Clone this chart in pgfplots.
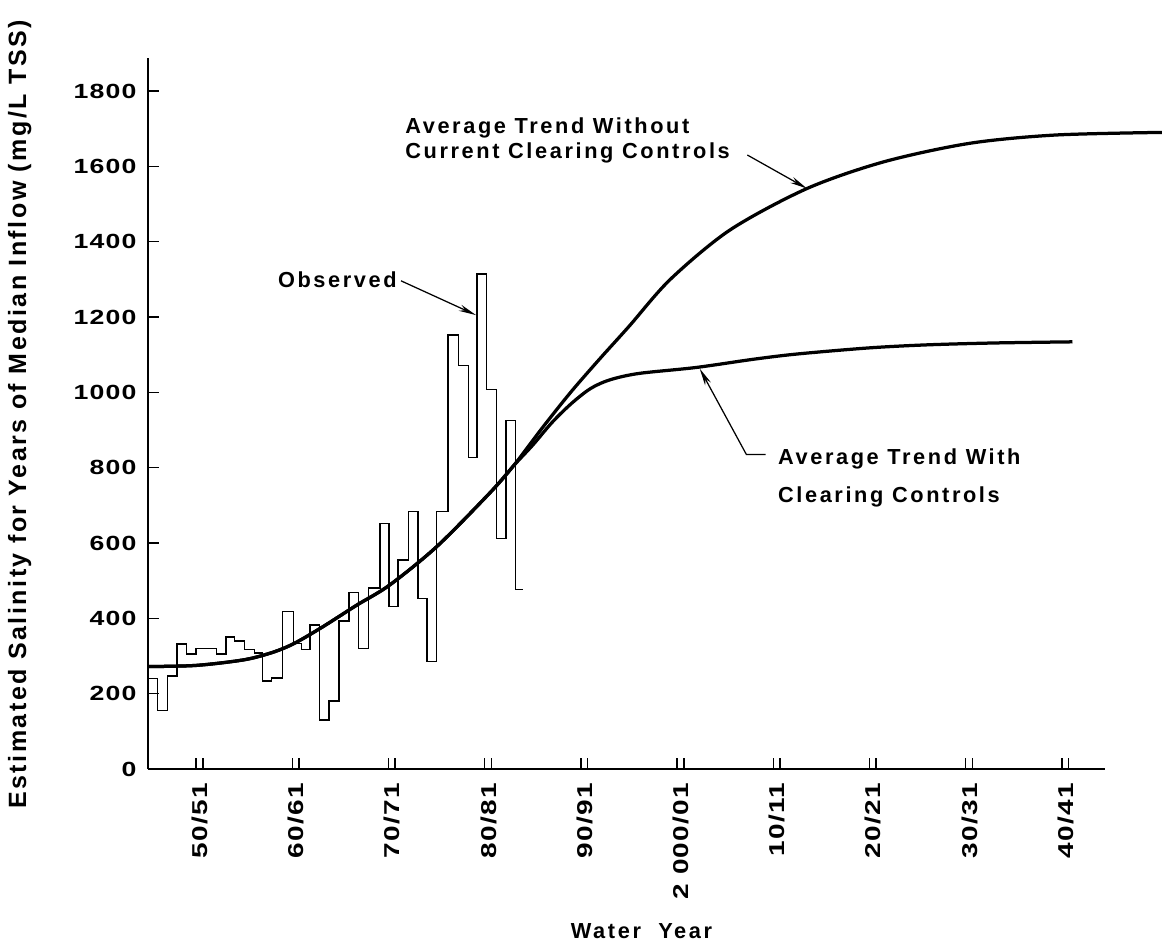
\documentclass[border=0pt]{standalone}
\usepackage{fontspec}
\usepackage{pgfplots}
\pgfplotsset{compat=1.18}
\usetikzlibrary{arrows.meta}
\newfontfamily\txt{Liberation Sans}[UprightFont=* Bold, LetterSpace=12]
\newfontfamily\ytxt{Liberation Sans}[UprightFont=* Bold, LetterSpace=10]
\newfontfamily\tck{Liberation Sans}[UprightFont=* Bold, FakeStretch=1.3, LetterSpace=6]
\newcommand\tfont{\txt\fontsize{8.7pt}{10.5pt}\selectfont}
\newcommand\kfont{\tck\fontsize{8.2pt}{9.5pt}\selectfont}
\newcommand\xkfont{\tck\fontsize{8.6pt}{9.5pt}\selectfont}
\begin{document}
\begin{tikzpicture}
\useasboundingbox (0,0) rectangle (466.8pt,380.8pt);
\begin{axis}[
  at={(59.2pt,73.2pt)}, anchor=south west,
  scale only axis, width=382.8pt, height=284.4pt,
  xmin=1945, xmax=2044.48, ymin=0, ymax=1887.5,
  axis x line=bottom, axis y line=left,
  x axis line style={-, line width=0.8pt},
  y axis line style={-, line width=0.8pt},
  clip=false,
  tick align=inside,
  major tick length=4.4pt, minor tick length=4.4pt,
  tick style={line width=0.6pt, black},
  xtick={1950.4,1960.4,1970.4,1980.4,1990.4,2000.4,2010.4,2020.4,2030.4,2040.4},
  xticklabels={50/51,60/61,70/71,80/81,90/91,2 000/01,10/11,20/21,30/31,40/41},
  major x tick style={draw=none},
  minor xtick={1950,1950.7,1960,1960.7,1970,1970.7,1980,1980.7,1990,1990.7,2000,2000.7,2010,2010.7,2020,2020.7,2030,2030.7,2040,2040.7},
  ytick={0,200,400,600,800,1000,1200,1400,1600,1800},
  yticklabels={0,200,400,600,800,1000,1200,1400,1600,1800},
  xticklabel style={font=\xkfont, rotate=90, anchor=east, inner sep=0pt},
  yticklabel style={font=\kfont, anchor=east, inner sep=0pt},
  xticklabel shift=5.4pt, yticklabel shift=4.4pt,
]
% Observed (annual steps)
\addplot[const plot, line width=0.55pt, black] coordinates {
(1945,241)(1946,155)(1947,247)(1948,332)(1949,305)(1950,320)(1952.15,305)
(1953.1,350)(1954,340)(1955,318)(1956.05,308)(1956.9,234)(1957.85,242)
(1959,418)(1960.1,334)(1960.95,318)(1961.85,382)(1962.85,130)(1963.8,181)
(1964.85,393)(1965.9,468)(1966.9,320)(1967.95,481)(1969.1,652)(1970.05,431)
(1971,555)(1972.1,683)(1973.05,453)(1974,285)(1975,683)(1976.2,1152)
(1977.3,1072)(1978.3,827)(1979.2,1314)(1980.2,1008)(1981.2,612)(1982.2,925)
(1983.2,477)(1984,477)};
% Average trend without current clearing controls
\addplot[smooth, line width=1.3pt, black] coordinates {
(1945,272)(1950,275)(1955,290)(1958,310)(1960.25,334)(1963.2,378)(1966.7,435)
(1970.1,488)(1975,590)(1980.5,732)(1983,805)(1986,906)(1989,1002)(1992,1090)
(1995,1175)(1999.3,1300)(2005.5,1431)(2013.5,1541)(2021.5,1612)(2030.4,1661)
(2039.3,1683)(2050.4,1690)};
% Average trend with clearing controls
\addplot[smooth, line width=1.3pt, black] coordinates {
(1945,272)(1950,275)(1955,290)(1958,310)(1960.25,334)(1963.2,378)(1966.7,435)
(1970.1,488)(1975,590)(1980.5,732)(1983,805)(1985,860)(1987,920)(1989,970)
(1991,1010)(1993,1033)(1996,1050)(2002,1066)(2008,1088)(2012.6,1102)
(2020,1118)(2026,1126)(2033,1131)(2041.1,1134)};
% annotations
\node[font=\tfont, anchor=east, inner sep=0pt] at (axis cs:1970.9,1300) {Observed};
\draw[line width=0.5pt, -{Stealth[length=7pt,width=2.6pt]}] (axis cs:1971.3,1296) -- (axis cs:1979.1,1205);
\node[font=\tfont, anchor=west, inner sep=0pt] at (axis cs:1971.7,1703) {Average Trend Without};
\node[font=\tfont, anchor=west, inner sep=0pt] at (axis cs:1971.7,1636) {Current Clearing Controls};
\draw[line width=0.5pt, -{Stealth[length=7pt,width=2.6pt]}] (axis cs:2007.3,1630) -- (axis cs:2013.5,1541);
\node[font=\tfont, anchor=west, inner sep=0pt] at (axis cs:2010.45,822) {Average Trend With};
\node[font=\tfont, anchor=west, inner sep=0pt] at (axis cs:2010.45,721) {Clearing Controls};
\draw[line width=0.5pt, -{Stealth[length=7pt,width=2.6pt]}] (axis cs:2009.2,835) -- (axis cs:2007.2,835) -- (axis cs:2002.35,1063);
\node[font=\ytxt\fontsize{10pt}{11.5pt}\selectfont, rotate=90, inner sep=0pt] at (axis cs:1931.66,941.5) {Estimated Salinity for Years of Median Inflow (mg/L TSS)};
\node[font=\tfont, inner sep=0pt] at (axis cs:1996.3,-430) {Water\ \ Year};
\end{axis}
\end{tikzpicture}
\end{document}
